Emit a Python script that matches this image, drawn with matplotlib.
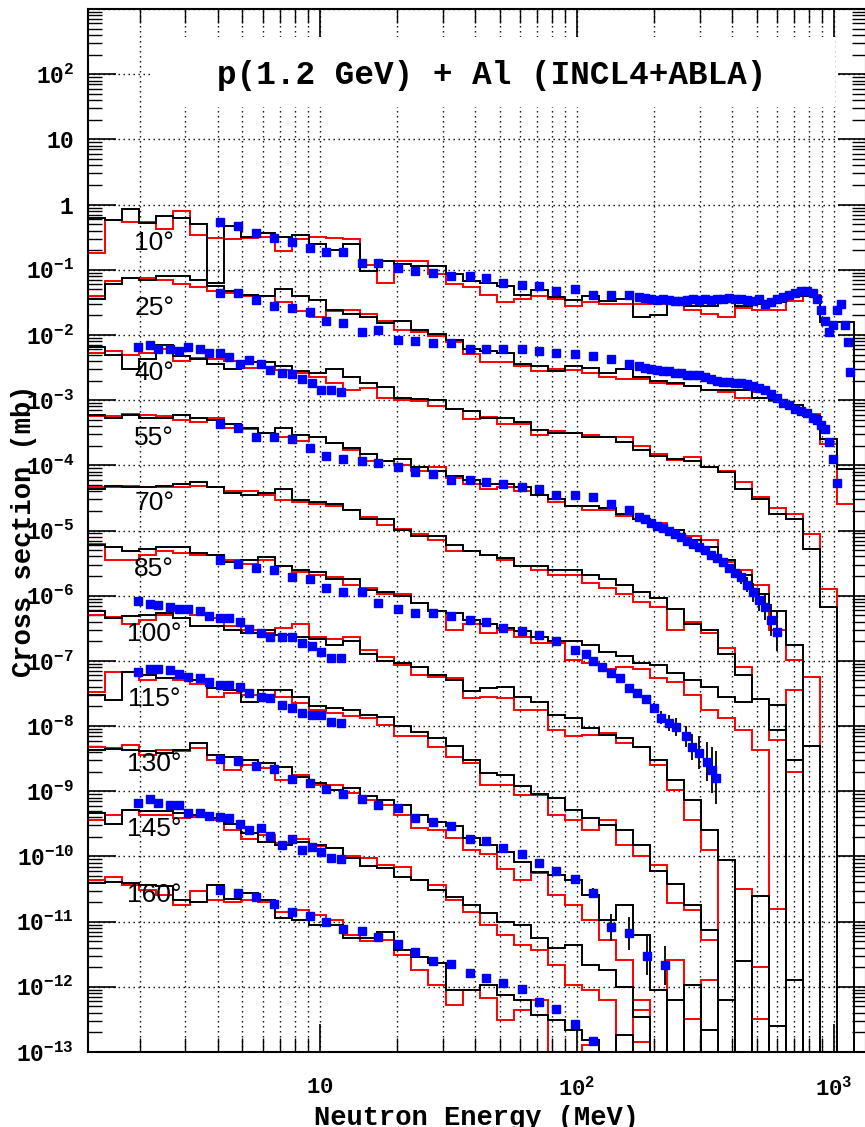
import numpy as np
import matplotlib
matplotlib.use("Agg")
import matplotlib.pyplot as plt
from matplotlib.ticker import FixedLocator, LogLocator, FuncFormatter, NullFormatter
from matplotlib.patches import Rectangle

plt.rcParams['font.family'] = ['Liberation Mono', 'DejaVu Sans']
plt.rcParams['font.weight'] = 'bold'
plt.rcParams['mathtext.fontset'] = 'custom'
plt.rcParams['mathtext.rm'] = 'Liberation Mono:bold'
plt.rcParams['mathtext.it'] = 'Liberation Mono:bold'
plt.rcParams['mathtext.bf'] = 'Liberation Mono:bold'
plt.rcParams['mathtext.default'] = 'rm'

# ---------------- data ----------------
# histogram bin edges (MeV)
edges = [1.25, 1.456, 1.696, 1.976, 2.302, 2.682, 3.124, 3.638, 4.238, 4.937,
         5.75, 6.698, 7.803, 9.089, 10.59, 12.33, 14.37, 16.73, 19.49, 22.71,
         26.45, 30.81, 35.89, 41.81, 48.7, 56.73, 66.09, 76.99, 89.68, 104.4,
         121.7, 141.7, 165.1, 192.3, 224.0, 261.0, 304.0, 354.1, 412.5, 480.5,
         559.7, 652.0, 759.5, 884.7, 1030.0, 1200.0]

angles = [10, 25, 40, 55, 70, 85, 100, 115, 130, 145, 160]
scale_exp = [0, 1, 2, 3, 4, 5, 6, 7, 8, 9, 10]   # spectrum at angle j is multiplied by 10^-j

# log10 of cross section (before the 10^-j scaling); None = empty bin
black_10 = [-0.2, -0.23, -0.07, -0.29, -0.18, -0.2, -0.3, -1.2, -0.33, -0.49, -0.44, -0.5, -0.46, -0.61, -0.69,
            -0.61, -1.02, -0.87, -0.91, -0.95, -0.95, -1.07, -1.17, -1.21, -1.25, -1.38, -1.31, -1.42, -1.47, -1.41,
            -1.48, -1.45, -1.73, -1.7, -1.53, -1.56, -1.56, -1.5, -1.56, -1.53, -1.5, -1.41, -1.4, -1.8, -1.8]
red_10 = [-0.75, -0.23, -0.26, -0.26, -0.38, -0.1, -0.47, -0.52, -0.53, -0.52, -0.5, -0.72, -0.53, -0.5, -0.52,
          -0.53, -0.92, -1.2, -0.86, -0.87, -1.07, -1.22, -1.27, -1.38, -1.5, -1.45, -1.41, -1.45, -1.56, -1.5,
          -1.53, -1.53, -1.53, -1.53, -1.53, -1.61, -1.68, -1.73, -1.58, -1.61, -1.61, -1.48, -1.38, -1.8, -1.8]
black_25 = [-0.45, -0.22, -0.13, -0.15, -0.1, -0.09, -0.16, -0.25, -0.33, -0.39, -0.41, -0.3, -0.41, -0.47, -0.61,
            -0.68, -0.73, -0.81, -0.78, -0.92, -0.99, -1.07, -1.22, -1.25, -1.27, -1.45, -1.47, -1.56, -1.47, -1.5,
            -1.58, -1.53, -1.65, -1.7, -1.73, -1.79, -1.84, -1.85, -1.84, -1.96, -2.0, -2.07, -2.25, -2.6, -3.06]
red_25 = [-0.41, -0.18, -0.12, -0.12, -0.15, -0.22, -0.27, -0.32, -0.35, -0.41, -0.41, -0.49, -0.64, -0.73, -0.64,
          -0.61, -0.68, -0.79, -0.92, -0.96, -1.01, -1.11, -1.3, -1.41, -1.41, -1.47, -1.56, -1.53, -1.54, -1.59,
          -1.65, -1.68, -1.68, -1.73, -1.76, -1.79, -1.84, -1.87, -1.96, -1.87, -2.02, -2.07, -2.22, -2.68, -3.6]
black_40 = [-0.19, -0.31, -0.53, -0.37, -0.16, -0.33, -0.37, -0.44, -0.53, -0.42, -0.41, -0.47, -0.56, -0.59, -0.53,
            -0.65, -0.74, -0.8, -0.96, -0.99, -1.0, -1.14, -1.17, -1.28, -1.28, -1.34, -1.46, -1.51, -1.51, -1.56,
            -1.57, -1.65, -1.76, -1.85, -1.91, -1.94, -2.02, -2.11, -2.37, -2.52, -2.75, -2.83, -3.29, -4.17, None]
red_40 = [-0.27, -0.24, -0.31, -0.27, -0.22, -0.4, -0.36, -0.37, -0.4, -0.51, -0.5, -0.54, -0.59, -0.65, -0.74,
          -0.84, -0.82, -0.96, -1.0, -1.01, -1.09, -1.14, -1.29, -1.26, -1.36, -1.37, -1.53, -1.48, -1.5, -1.54,
          -1.57, -1.56, -1.71, -1.83, -1.92, -1.88, -2.03, -2.09, -2.26, -2.48, -2.65, -2.75, -3.06, -3.9, None]
black_55 = [-0.23, -0.27, -0.23, -0.27, -0.27, -0.23, -0.27, -0.3, -0.37, -0.42, -0.5, -0.42, -0.53, -0.57, -0.66,
            -0.73, -0.83, -0.94, -0.9, -1.03, -1.08, -1.17, -1.23, -1.29, -1.28, -1.33, -1.45, -1.51, -1.62, -1.63,
            -1.65, -1.74, -1.83, -1.91, -1.99, -2.14, -2.26, -2.45, -2.68, -2.98, -3.24, -3.75, None, None, None]
red_55 = [-0.25, -0.25, -0.22, -0.23, -0.25, -0.3, -0.34, -0.28, -0.42, -0.45, -0.51, -0.57, -0.62, -0.56, -0.66,
          -0.76, -0.94, -0.93, -1.0, -1.08, -1.03, -1.19, -1.28, -1.36, -1.34, -1.4, -1.46, -1.56, -1.62, -1.68,
          -1.68, -1.77, -1.82, -1.88, -1.99, -2.08, -2.14, -2.49, -2.6, -2.83, -3.52, -3.98, -4.24, None, None]
black_70 = [-0.37, -0.31, -0.33, -0.34, -0.31, -0.28, -0.25, -0.33, -0.42, -0.45, -0.42, -0.37, -0.53, -0.56, -0.6,
            -0.68, -0.83, -0.83, -0.99, -1.09, -1.09, -1.22, -1.31, -1.37, -1.42, -1.54, -1.55, -1.6, -1.6, -1.69,
            -1.75, -1.83, -1.94, -2.03, -2.21, -2.44, -2.52, -2.9, -3.21, -3.59, -3.67, None, -4.3, None, None]
red_70 = [-0.33, -0.34, -0.31, -0.34, -0.33, -0.33, -0.31, -0.33, -0.39, -0.4, -0.45, -0.53, -0.57, -0.6, -0.63,
          -0.68, -0.8, -0.91, -0.97, -1.06, -1.14, -1.32, -1.32, -1.38, -1.45, -1.55, -1.6, -1.68, -1.68, -1.8,
          -1.88, -1.98, -2.09, -2.18, -2.52, -2.4, -2.57, -2.8, -3.1, -3.59, -4.21, -3.44, None, None, None]
black_85 = [-0.23, -0.26, -0.32, -0.29, -0.26, -0.26, -0.34, -0.38, -0.49, -0.46, -0.41, -0.55, -0.6, -0.64, -0.74,
            -0.74, -0.91, -0.95, -1.0, -1.11, -1.24, -1.27, -1.37, -1.43, -1.5, -1.54, -1.64, -1.69, -1.7, -1.75,
            -1.86, -1.93, -2.04, -2.07, -2.18, -2.3, -2.4, -2.55, -2.63, -2.59, -3.06, -3.52, None, None, None]
red_85 = [-0.21, -0.45, -0.45, -0.37, -0.32, -0.34, -0.37, -0.37, -0.45, -0.52, -0.45, -0.55, -0.63, -0.68, -0.72,
          -0.83, -0.88, -0.98, -0.98, -1.11, -1.24, -1.52, -1.44, -1.57, -1.52, -1.63, -1.72, -1.72, -1.98, -2.03,
          -2.13, -2.09, -2.13, -2.26, -2.33, -2.52, -2.75, -2.87, -3.06, -3.36, None, -3.7, None, None, None]
black_100 = [-0.24, -0.34, -0.31, -0.29, -0.26, -0.34, -0.47, -0.47, -0.52, -0.58, -0.52, -0.6, -0.63, -0.67, -0.75,
             -0.7, -0.9, -1.0, -1.03, -1.1, -1.21, -1.29, -1.46, -1.41, -1.4, -1.55, -1.63, -1.83, -1.87, -2.03,
             -2.13, -2.19, -2.32, -2.52, -2.83, -3.13, -3.59, -4.05, None, -4.6, None, None, None, None, None]
red_100 = [-0.29, -0.32, -0.44, -0.37, -0.29, -0.24, -0.29, -0.34, -0.47, -0.52, -0.57, -0.49, -0.44, -0.63, -0.67,
           -0.63, -0.83, -0.94, -1.06, -1.21, -1.24, -1.26, -1.57, -1.55, -1.57, -1.75, -1.75, -2.06, -2.16, -2.13,
           -2.1, -2.26, -2.32, -2.59, -2.98, -3.44, -3.9, None, -4.5, None, -4.8, None, None, None, None]
black_115 = [-0.52, -0.6, -0.17, -0.21, -0.26, -0.26, -0.29, -0.41, -0.44, -0.63, -0.44, -0.44, -0.55, -0.69, -0.72,
             -0.76, -0.83, -0.86, -1.0, -1.09, -1.18, -1.3, -1.52, -1.72, -1.75, -1.92, -2.04, -2.1, -2.29, -2.41,
             -2.52, -2.59, -2.82, -3.23, -3.43, -3.74, -4.13, None, -4.6, None, None, -4.9, None, None, None]
red_115 = [-0.47, -0.17, -0.17, -0.29, -0.26, -0.29, -0.35, -0.55, -0.5, -0.52, -0.44, -0.55, -0.64, -0.75, -0.8,
           -0.84, -0.87, -0.98, -1.16, -1.16, -1.32, -1.47, -1.56, -1.9, -1.9, -2.06, -2.06, -2.36, -2.44, -2.59,
           -2.44, -2.82, -3.0, -3.13, -3.71, -3.82, -4.28, None, None, -4.7, None, None, None, None, None]
black_130 = [-0.36, -0.35, -0.36, -0.39, -0.41, -0.36, -0.26, -0.44, -0.47, -0.52, -0.56, -0.63, -0.78, -0.87, -0.98,
             -0.95, -1.08, -1.13, -1.21, -1.36, -1.47, -1.54, -1.71, -1.82, -1.93, -2.08, -2.24, -2.28, -2.36, -2.59,
             -2.97, -2.74, -3.2, -4.05, None, -3.97, None, -4.2, None, None, -4.6, None, None, None, None]
red_130 = [-0.32, -0.34, -0.29, -0.44, -0.36, -0.39, -0.34, -0.52, -0.67, -0.6, -0.64, -0.82, -0.75, -0.9, -0.9,
           -1.02, -1.13, -1.21, -1.36, -1.56, -1.59, -1.71, -1.9, -1.97, -2.2, -2.36, -2.25, -2.59, -2.74, -2.97,
           -3.28, -3.59, -4.2, None, -3.59, None, -3.9, None, None, -4.5, None, None, None, None, None]
black_145 = [-0.33, -0.51, -0.28, -0.31, -0.31, -0.33, -0.36, -0.41, -0.51, -0.64, -0.78, -0.82, -0.78, -0.82, -0.87,
             -1.02, -1.14, -1.17, -1.31, -1.36, -1.51, -1.62, -1.74, -1.87, -2.0, -2.05, -2.25, -2.4, -2.36, -2.66,
             -2.74, -3.01, -3.46, None, -3.2, None, -3.66, None, None, None, None, None, None, None, None]
red_145 = [-0.44, -0.36, -0.28, -0.36, -0.36, -0.41, -0.39, -0.44, -0.59, -0.74, -0.67, -0.79, -0.74, -0.84, -0.87,
           -0.99, -1.02, -1.13, -1.16, -1.36, -1.44, -1.67, -1.85, -2.05, -2.2, -2.36, -2.43, -2.66, -2.97, -3.05,
           -3.2, None, -3.35, None, None, -3.5, None, None, None, None, None, None, None, None, None]
black_160 = [-0.41, -0.39, -0.41, -0.44, -0.45, -0.67, -0.7, -0.44, -0.65, -0.56, -0.67, -0.95, -0.97, -1.05, -1.05,
             -1.25, -1.25, -1.16, -1.43, -1.55, -1.63, -2.05, -2.05, -1.97, -2.12, -2.2, -2.43, -2.51, -2.66, -2.82,
             None, -2.74, None, None, None, None, None, None, None, None, None, None, None, None, None]
red_160 = [-0.36, -0.31, -0.44, -0.51, -0.59, -0.74, -0.53, -0.67, -0.7, -0.67, -0.7, -0.85, -0.82, -0.9, -0.97,
           -1.2, -1.29, -1.28, -1.51, -1.74, -1.97, -2.28, -2.05, -2.17, -2.51, -2.36, -2.2, None, None, -2.9,
           None, None, -2.85, None, None, None, None, None, None, None, None, None, None, None, None]

black_all = [black_10, black_25, black_40, black_55, black_70, black_85,
             black_100, black_115, black_130, black_145, black_160]
red_all = [red_10, red_25, red_40, red_55, red_70, red_85,
           red_100, red_115, red_130, red_145, red_160]

# measured points: energies (MeV)
E_fast = [4.09, 4.80, 5.64, 6.63, 7.79, 9.15, 10.6, 12.3, 14.6, 16.9, 20.1, 23.4, 27.5,
          32.5, 38.2, 44.1, 51.4, 60.9, 71.5, 83.2, 98.7, 115, 136, 160, 188, 221]
E_low = [1.96, 2.19, 2.35, 2.62, 2.83, 3.07, 3.42, 3.71, 4.09, 4.43, 4.89, 5.30, 5.90,
         6.39, 7.12, 7.79, 8.51, 9.31, 10.1, 11.0, 12.1]
E_tof = [175, 184.5, 194.7, 205.4, 216.7, 228.7, 241.3, 254.6, 268.6, 283.4, 299.0, 315.5,
         332.9, 351.2, 370.6, 391.0, 412.5, 435.3, 459.3, 484.6, 511.3, 539.5, 569.2, 600.6,
         633.7, 668.6, 705.5, 744.4, 785.4, 828.7, 859.0, 890.4, 922.7, 956.3, 991.1, 1027,
         1065, 1103, 1133, 1154]
E_85hi = [108.9, 115, 125.6, 136.1, 147.6, 160, 171.8, 186.2, 200, 212.9, 228.7, 243.5,
          266.3, 280.9, 299, 321.2, 335.9, 348.1]

# measured log10 cross sections (before scaling)
exp_10_fast = [-0.26, -0.33, -0.43, -0.52, -0.58, -0.66, -0.73, -0.73, -0.89, -0.9, -0.98, -1.02,
               -1.05, -1.1, -1.1, -1.13, -1.21, -1.24, -1.25, -1.32, -1.3, -1.38, -1.39, -1.39]
exp_10_tof = [-1.42, -1.44, -1.45, -1.47, -1.45, -1.47, -1.48, -1.48, -1.47, -1.45, -1.47, -1.45,
              -1.47, -1.45, -1.45, -1.44, -1.45, -1.45, -1.47, -1.48, -1.45, -1.52, -1.5, -1.45,
              -1.42, -1.39, -1.36, -1.33, -1.33, -1.36, -1.45, -1.61, -1.79, -1.96, -1.84, -1.61,
              -1.53, -1.84, -2.11, -2.57]
exp_25_fast = [-0.35, -0.35, -0.47, -0.56, -0.58, -0.65, -0.79, -0.82, -0.96, -0.93, -1.07, -1.1,
               -1.13, -1.13, -1.22, -1.22, -1.22, -1.21, -1.25, -1.27, -1.3, -1.33, -1.37, -1.44]
exp_25_tof = [-1.48, -1.51, -1.53, -1.54, -1.56, -1.56, -1.58, -1.59, -1.61, -1.61, -1.61, -1.64,
              -1.67, -1.7, -1.72, -1.72, -1.73, -1.73, -1.76, -1.79, -1.82, -1.85, -1.9, -1.96,
              -2.04, -2.08, -2.13, -2.17, -2.2, -2.27, -2.31, -2.38, -2.45, -2.65, -2.91, -3.27]
exp_40_low = [-0.18, -0.16, -0.21, -0.22, -0.24, -0.19, -0.22, -0.27, -0.27, -0.34, -0.45, -0.39,
              -0.45, -0.54, -0.59, -0.6, -0.68, -0.74, -0.85, -0.85, -0.88]
exp_55_fast = [-0.36, -0.42, -0.57, -0.57, -0.59, -0.73, -0.86, -0.9, -0.93, -0.96, -1.03, -1.11,
               -1.14, -1.22, -1.23, -1.26, -1.28, -1.33, -1.37, -1.46, -1.46, -1.49, -1.6, -1.69]
exp_55_tof = [-1.79, -1.83, -1.88, -1.93, -1.96, -2.0, -2.05, -2.1, -2.16, -2.21, -2.25, -2.3,
              -2.37, -2.42, -2.49, -2.57, -2.65, -2.72, -2.83, -2.95, -3.06, -3.18, -3.37, -3.55]
err_55_tof = [0.03, 0.03, 0.03, 0.03, 0.03, 0.03, 0.03, 0.03, 0.03, 0.03, 0.03, 0.03, 0.03, 0.04,
              0.05, 0.06, 0.08, 0.1, 0.12, 0.15, 0.18, 0.2, 0.25, 0.3]
exp_85_fast = [-0.45, -0.51, -0.57, -0.6, -0.71, -0.75, -0.88, -0.95, -0.95, -1.11, -1.2, -1.26,
               -1.26, -1.31, -1.38, -1.41, -1.5, -1.54, -1.6, -1.7, -1.83]
exp_85_hi = [-1.9, -2.0, -2.1, -2.18, -2.27, -2.41, -2.49, -2.59, -2.72, -2.87, -2.95, -3.02,
             -3.16, -3.32, -3.41, -3.55, -3.67, -3.79]
err_85_hi = [0.03, 0.03, 0.04, 0.04, 0.05, 0.05, 0.06, 0.07, 0.08, 0.1, 0.12, 0.14, 0.16, 0.2,
             0.25, 0.3, 0.35, 0.4]
exp_100_low = [-0.08, -0.12, -0.15, -0.17, -0.2, -0.21, -0.23, -0.31, -0.34, -0.34, -0.41, -0.51,
               -0.57, -0.63, -0.63, -0.64, -0.72, -0.77, -0.86, -0.95, -0.95]
exp_115_low = [-0.17, -0.12, -0.12, -0.14, -0.2, -0.24, -0.27, -0.33, -0.37, -0.37, -0.4, -0.5,
               -0.55, -0.57, -0.67, -0.72, -0.8, -0.83, -0.83, -0.94, -0.96]
exp_130_fast = [-0.5, -0.53, -0.61, -0.66, -0.81, -0.87, -0.96, -1.04, -1.12, -1.21, -1.25, -1.41,
                -1.47, -1.53, -1.73, -1.76, -1.87, -1.96, -2.1, -2.22, -2.35, -2.56, -3.09, -3.18,
                -3.52, -3.67]
err_130_fast = [0.02, 0.02, 0.02, 0.02, 0.02, 0.02, 0.02, 0.02, 0.02, 0.02, 0.02, 0.02, 0.02,
                0.02, 0.02, 0.02, 0.02, 0.02, 0.02, 0.02, 0.05, 0.08, 0.2, 0.25, 0.3, 0.3]
exp_145_low = [-0.18, -0.12, -0.18, -0.21, -0.21, -0.33, -0.33, -0.38, -0.39, -0.41, -0.5, -0.59,
               -0.56, -0.68, -0.82, -0.73, -0.9, -0.85, -0.93, -1.02, -1.04]
exp_160_fast = [-0.51, -0.56, -0.62, -0.73, -0.85, -0.91, -1.0, -1.11, -1.14, -1.23, -1.34, -1.46,
                -1.6, -1.65, -1.79, -1.87, -1.94, -2.03, -2.23, -2.34, -2.57, -2.83]

title = 'p(1.2 GeV) + Al (INCL4+ABLA)'
xlabel = 'Neutron Energy (MeV)'
ylabel = 'Cross section (mb)'

# ---------------- figure ----------------
W, H = 865, 1127
fig = plt.figure(figsize=(W / 100, H / 100), dpi=100)
ax = fig.add_axes([88 / W, 75 / H, 778 / W, 1043 / H])
ax.set_xscale('log')
ax.set_yscale('log')
ax.set_xlim(1.253, 1332)
ax.set_ylim(1e-13, 1e3)


def lin(vals, j):
    return np.array([0.0 if v is None else 10.0 ** (v - j) for v in vals])


for j, (bl, rd) in enumerate(zip(black_all, red_all)):
    ax.stairs(lin(rd, scale_exp[j]), edges, baseline=0, fill=False,
              color='#ff0000', lw=1.4, zorder=2)
    ax.stairs(lin(bl, scale_exp[j]), edges, baseline=0, fill=False,
              color='black', lw=1.4, zorder=2.2)


def pts(E, v, j, err=None):
    y = 10.0 ** (np.array(v) - j)
    if err is None:
        ax.plot(E, y, 's', color='#0000ff', ms=6.3, mec='#0000ff', zorder=5)
    else:
        e = np.array(err)
        lo = y - y * 10.0 ** (-e)
        hi = y * 10.0 ** e - y
        ax.errorbar(E, y, yerr=[lo, hi], fmt='s', color='#0000ff', ms=6.3, mec='#0000ff',
                    ecolor='black', elinewidth=1.3, capsize=0, zorder=5)


pts(E_fast[:24], exp_10_fast, 0)
pts(E_tof, exp_10_tof, 0)
pts(E_fast[:24], exp_25_fast, 1)
pts(E_tof[:36], exp_25_tof, 1)
pts(E_low, exp_40_low, 2)
pts(E_fast[:24], exp_55_fast, 3)
pts(E_tof[:24], exp_55_tof, 3, err_55_tof)
pts(E_fast[:21], exp_85_fast, 5)
pts(E_85hi, exp_85_hi, 5, err_85_hi)
pts(E_low, exp_100_low, 6)
pts(E_low, exp_115_low, 7)
pts(E_fast, exp_130_fast, 8, err_130_fast)
pts(E_low, exp_145_low, 9)
pts(E_fast[:22], exp_160_fast, 10)

# angle labels
for j, a in enumerate(angles):
    ax.text(2.266, 0.26 * 10.0 ** (-scale_exp[j]), f'{a}\u00b0', ha='center', va='center',
            fontsize=19, family=['Liberation Sans', 'DejaVu Sans'], fontweight='normal', zorder=6)

# title with blank box behind it
ax.add_patch(Rectangle((0.0797, 0.906), 0.881, 0.067, transform=ax.transAxes,
                       facecolor='white', edgecolor='none', zorder=1))
ax.text(0.519, 0.936, title, transform=ax.transAxes, ha='center', va='center',
        fontsize=23.5, fontweight='bold', zorder=6)

# axes styling
ax.set_axisbelow(True)
ax.xaxis.set_major_locator(FixedLocator([10, 100, 1000]))
ax.xaxis.set_minor_locator(LogLocator(base=10, subs=np.arange(2, 10) * 1.0, numticks=50))
ax.yaxis.set_major_locator(FixedLocator([10.0 ** k for k in range(-13, 4)]))
ax.yaxis.set_minor_locator(LogLocator(base=10, subs=np.arange(2, 10) * 1.0, numticks=100))
ax.xaxis.set_minor_formatter(NullFormatter())
ax.yaxis.set_minor_formatter(NullFormatter())


def pow_label(e):
    if e == 0:
        return r'$1$'
    if e == 1:
        return r'$10$'
    return r'$10^{%d}$' % e


def xfmt(v, pos):
    return pow_label(int(round(np.log10(v))))


def yfmt(v, pos):
    e = int(round(np.log10(v)))
    return '' if e >= 3 else pow_label(e)


ax.xaxis.set_major_formatter(FuncFormatter(xfmt))
ax.yaxis.set_major_formatter(FuncFormatter(yfmt))

ax.tick_params(axis='both', which='major', direction='in', length=20, width=1.2,
               top=True, right=True, labelsize=16)
ax.tick_params(axis='both', which='minor', direction='in', length=10, width=1.0,
               top=True, right=True)
ax.tick_params(axis='y', which='major', pad=10, labelsize=16.5)
ax.tick_params(axis='x', which='major', pad=18)
for s in ax.spines.values():
    s.set_linewidth(1.5)

ax.grid(True, which='major', axis='both', color='black', linestyle=(0, (1, 2.6)), linewidth=1.0)
ax.grid(True, which='minor', axis='x', color='black', linestyle=(0, (1, 2.6)), linewidth=1.0)

ax.set_xlabel(xlabel, fontsize=19.5, fontweight='bold')
ax.xaxis.set_label_coords(0.5, -0.051)
ax.set_ylabel(ylabel, fontsize=19.5, fontweight='bold')
ax.yaxis.set_label_coords(-0.066, 0.5)

fig.savefig('out.png', dpi=100)
